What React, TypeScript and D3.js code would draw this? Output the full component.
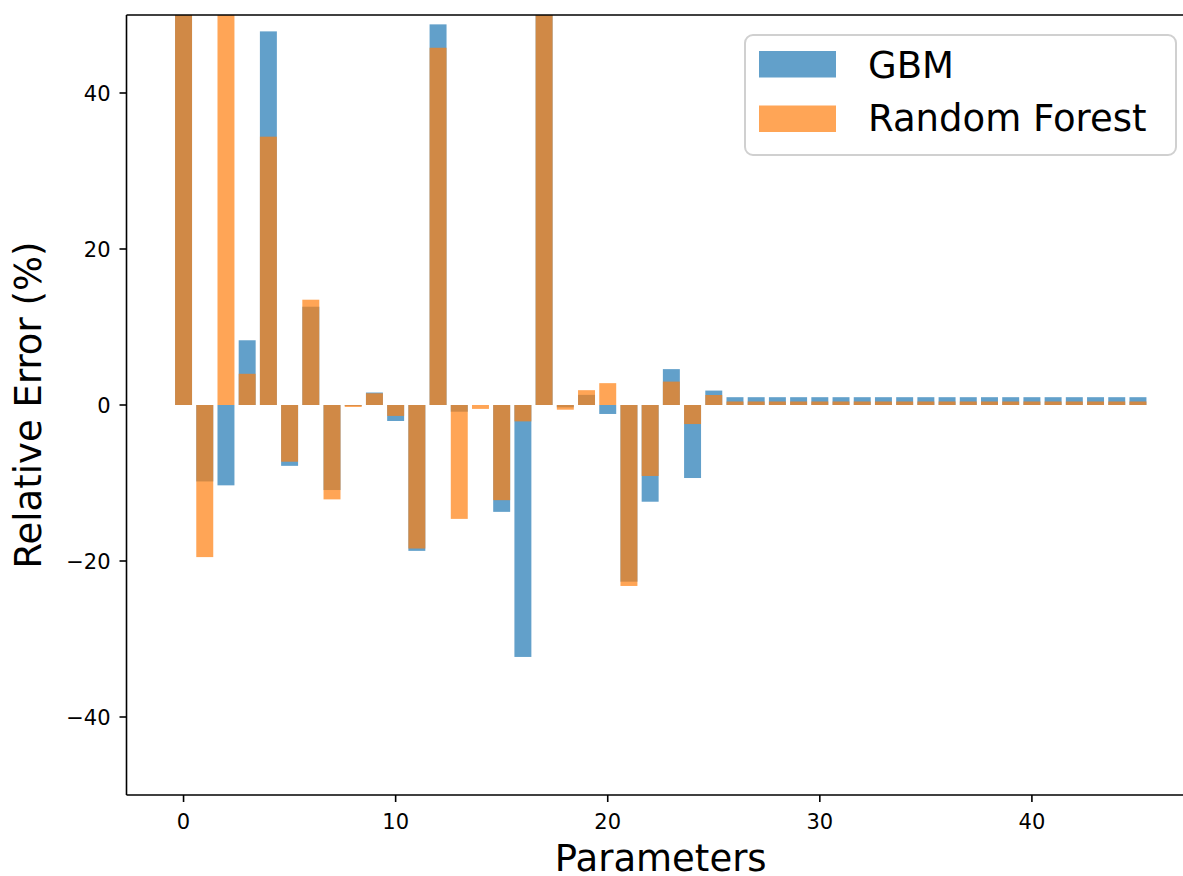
import React, { useEffect } from "react";
import * as d3 from "d3";

// Data (relative error %, per parameter index)
const gbmHead: number[] = [95, -9.8, -10.3, 8.3, 47.9, -7.8, 12.6, -10.9, -0.1, 1.6, -2.05, -18.7, 48.8, -0.86, 0, -13.7, -32.3, 120, -0.3, 1.3, -1.15, -22.65, -12.4, 4.6, -9.36, 1.85];
const rfHead: number[] = [110, -19.5, 60, 4.0, 34.4, -7.27, 13.5, -12.1, -0.25, 1.5, -1.4, -18.4, 45.8, -14.6, -0.5, -12.2, -2.1, 90, -0.6, 1.9, 2.8, -23.2, -9.1, 3.0, -2.44, 1.28];
const gbmTail: number[] = [1.0, 1.0, 1.0, 1.0, 1.0, 1.0, 1.0, 1.0, 1.0, 1.0, 1.0, 1.0, 1.0, 1.0, 1.0, 1.0, 1.0, 1.0, 1.0, 1.0];
const rfTail: number[] = [0.45, 0.45, 0.45, 0.45, 0.45, 0.45, 0.45, 0.45, 0.45, 0.45, 0.45, 0.45, 0.45, 0.45, 0.45, 0.45, 0.45, 0.45, 0.45, 0.45];
const gbmValues: number[] = [...gbmHead, ...gbmTail];
const rfValues: number[] = [...rfHead, ...rfTail];
const xTicks: number[] = [0, 10, 20, 30, 40];
const yTicks: number[] = [-40, -20, 0, 20, 40];
const seriesNames: string[] = ["GBM", "Random Forest"];
const seriesColors: string[] = ["#1f77b4", "#ff7f0e"];

const W = 1183;
const H = 876;
const left = 126.5;
const right = 1195;
const top = 15;
const bottom = 795;
const FONT = "'DejaVu Sans', sans-serif";

export default function App() {
  useEffect(() => {
    document.body.style.margin = "0";
  }, []);

  const n = gbmValues.length;
  const barW = 0.8;
  const pad = (n - 1 + barW) * 0.05;
  const x = d3.scaleLinear().domain([-barW / 2 - pad, n - 1 + barW / 2 + pad]).range([left, right]);
  const y = d3.scaleLinear().domain([-50, 50]).range([bottom, top]);
  const bw = x(barW) - x(0);

  const bars = (vals: number[], color: string, key: string) =>
    vals.map((v, i) => (
      <rect
        key={key + i}
        x={x(i) - bw / 2}
        y={Math.min(y(v), y(0))}
        width={bw}
        height={Math.abs(y(v) - y(0))}
        fill={color}
        fillOpacity={0.7}
      />
    ));

  return (
    <svg width={W} height={H} style={{ display: "block", background: "#fff" }} fontFamily={FONT}>
      <defs>
        <clipPath id="plot">
          <rect x={left} y={top} width={right - left} height={bottom - top} />
        </clipPath>
      </defs>
      <rect x={0} y={0} width={W} height={H} fill="#fff" />
      <g clipPath="url(#plot)">
        {bars(gbmValues, seriesColors[0], "g")}
        {bars(rfValues, seriesColors[1], "r")}
      </g>
      {/* spines */}
      <g stroke="#000" strokeWidth={1.6} fill="none">
        <line x1={left} x2={left} y1={top} y2={bottom} />
        <line x1={left} x2={right} y1={bottom} y2={bottom} />
        <line x1={left} x2={right} y1={top} y2={top} />
        <line x1={right} x2={right} y1={top} y2={bottom} />
      </g>
      {/* x ticks */}
      {xTicks.map((t) => (
        <g key={"xt" + t}>
          <line x1={x(t)} x2={x(t)} y1={bottom} y2={bottom + 7} stroke="#000" strokeWidth={1.6} />
          <text x={x(t)} y={bottom + 34} fontSize={21} textAnchor="middle" fill="#000">
            {String(t)}
          </text>
        </g>
      ))}
      {/* y ticks */}
      {yTicks.map((t) => (
        <g key={"yt" + t}>
          <line x1={left - 7} x2={left} y1={y(t)} y2={y(t)} stroke="#000" strokeWidth={1.6} />
          <text x={left - 16} y={y(t) + 7.5} fontSize={21} textAnchor="end" fill="#000">
            {t < 0 ? "\u2212" + Math.abs(t) : String(t)}
          </text>
        </g>
      ))}
      {/* axis labels */}
      <text x={(left + right) / 2} y={871} fontSize={37} textAnchor="middle" fill="#000">
        Parameters
      </text>
      <text
        transform={`translate(41, ${(top + bottom) / 2}) rotate(-90)`}
        fontSize={37}
        textAnchor="middle"
        fill="#000"
      >
        Relative Error (%)
      </text>
      {/* legend */}
      <g>
        <rect x={745} y={35} width={431} height={120} rx={8} fill="#fff" fillOpacity={0.8} stroke="#d0d0d0" strokeWidth={2} />
        {seriesNames.map((name, i) => (
          <g key={name}>
            <rect x={759} y={51 + i * 54.5} width={77} height={26.5} fill={seriesColors[i]} fillOpacity={0.7} />
            <text x={868} y={77.5 + i * 53.5} fontSize={37} fill="#000">
              {name}
            </text>
          </g>
        ))}
      </g>
    </svg>
  );
}
